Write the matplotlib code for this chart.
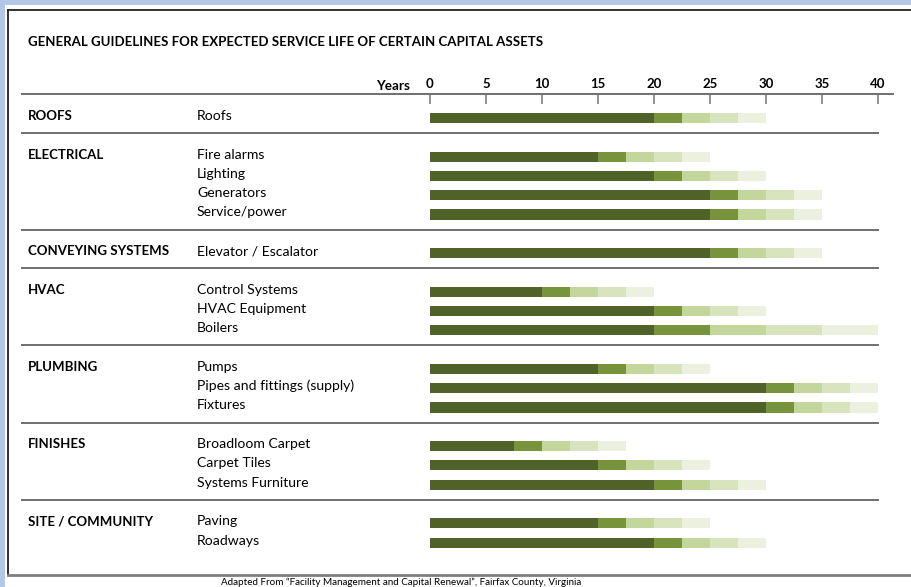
import matplotlib as mpl
mpl.use('Agg')

import matplotlib.pyplot as plt
import matplotlib.transforms as mtransforms
from matplotlib.patches import Rectangle
from matplotlib.lines import Line2D

plt.rcParams['font.family'] = ['Lato', 'DejaVu Sans']

# data: expected service life (years). each bar = base + 4 equal steps
groups = ['ROOFS', 'ELECTRICAL', 'CONVEYING SYSTEMS', 'HVAC', 'PLUMBING',
          'FINISHES', 'SITE / COMMUNITY']
items = [['Roofs'],
         ['Fire alarms', 'Lighting', 'Generators', 'Service/power'],
         ['Elevator / Escalator'],
         ['Control Systems', 'HVAC Equipment', 'Boilers'],
         ['Pumps', 'Pipes and fittings (supply)', 'Fixtures'],
         ['Broadloom Carpet', 'Carpet Tiles', 'Systems Furniture'],
         ['Paving', 'Roadways']]
base_years = [[20], [15, 20, 25, 25], [25], [10, 20, 20], [15, 30, 30],
              [7.5, 15, 20], [15, 20]]
step_years = [[2.5], [2.5, 2.5, 2.5, 2.5], [2.5], [2.5, 2.5, 5],
              [2.5, 2.5, 2.5], [2.5, 2.5, 2.5], [2.5, 2.5]]
year_ticks = [0, 5, 10, 15, 20, 25, 30, 35, 40]

colors = ['#4F6228', '#77933C', '#C3D69B', '#D7E4BD', '#EBF1DE']

W, H = 911, 587
fig = plt.figure(figsize=(W / 100, H / 100), dpi=100, facecolor='white')

# page frame (blue strips + box)
fig.add_artist(Rectangle((0, 1 - 5 / H), 1, 5 / H, transform=fig.transFigure,
                         facecolor='#B4C7E7', edgecolor='none'))
fig.add_artist(Rectangle((0, 0), 5 / W, 1, transform=fig.transFigure,
                         facecolor='#B4C7E7', edgecolor='none'))
fig.add_artist(Line2D([8 / W, 8 / W], [1 - 10 / H, 1 - 574 / H],
                      transform=fig.transFigure, color='#222222', lw=1.3))
fig.add_artist(Line2D([8 / W, 1], [1 - 10 / H, 1 - 10 / H],
                      transform=fig.transFigure, color='#222222', lw=1.3))
fig.add_artist(Line2D([8 / W, 1], [1 - 574.5 / H, 1 - 574.5 / H],
                      transform=fig.transFigure, color='#7F7F7F', lw=2))

# bar area: 0 yrs at x=430px, 40 yrs at x=878px, rows 19.3 px apart
unit = 19.3
ax = fig.add_axes([430 / W, 1 - 570 / H, 448 / W, (570 - 94) / H])
ax.set_xlim(0, 40)
ax.set_ylim((570 - 118) / unit, (94 - 118) / unit)
ax.set_facecolor('none')
for s in ax.spines.values():
    s.set_visible(False)
ax.set_yticks([])
ax.xaxis.tick_top()
ax.set_xticks(year_ticks)
ax.set_xticklabels([str(t) for t in year_ticks], fontweight='bold')
ax.tick_params(axis='x', direction='in', length=7, width=1.2,
               color='#7F7F7F', pad=3, labelsize=9.5)

blend = mtransforms.blended_transform_factory(fig.transFigure, ax.transData)
top_y = (94 - 118) / unit
ax.plot([22 / W, 893 / W], [top_y, top_y], transform=blend, clip_on=False,
        color='#6F6F6F', lw=1.4)
ax.text(410 / W, (90 - 118) / unit, 'Years', transform=blend,
        ha='right', va='baseline', fontweight='bold', fontsize=9.7)

row = 0
for g, (grp, names) in enumerate(zip(groups, items)):
    for k, name in enumerate(names):
        y = row + g
        left = 0
        widths = [base_years[g][k]] + [step_years[g][k]] * 4
        for w, c in zip(widths, colors):
            ax.barh(y, w, left=left, height=0.52, color=c, edgecolor='none')
            left += w
        if k == 0:
            ax.text(28 / W, y + 0.1, grp, transform=blend, ha='left',
                    va='baseline', fontweight='bold', fontsize=9.5)
        ax.text(197 / W, y + 0.1, name, transform=blend, ha='left',
                va='baseline', fontsize=10.1)
        row += 1
    if g < len(groups) - 1:
        sep = row + g - 1 + 0.78
        ax.plot([22 / W, 878 / W], [sep, sep], transform=blend,
                clip_on=False, color='#6F6F6F', lw=1.4)

fig.text(28 / W, 1 - 46 / H,
         'GENERAL GUIDELINES FOR EXPECTED SERVICE LIFE OF CERTAIN CAPITAL ASSETS',
         ha='left', va='baseline', fontweight='bold', fontsize=9.5)
fig.text(401 / W, 1 - 578 / H,
         'Adapted From \u201cFacility Management and Capital Renewal\u201d, '
         'Fairfax County, Virginia',
         ha='center', va='top', fontsize=7.1)

fig.savefig('out.png', dpi=100)
